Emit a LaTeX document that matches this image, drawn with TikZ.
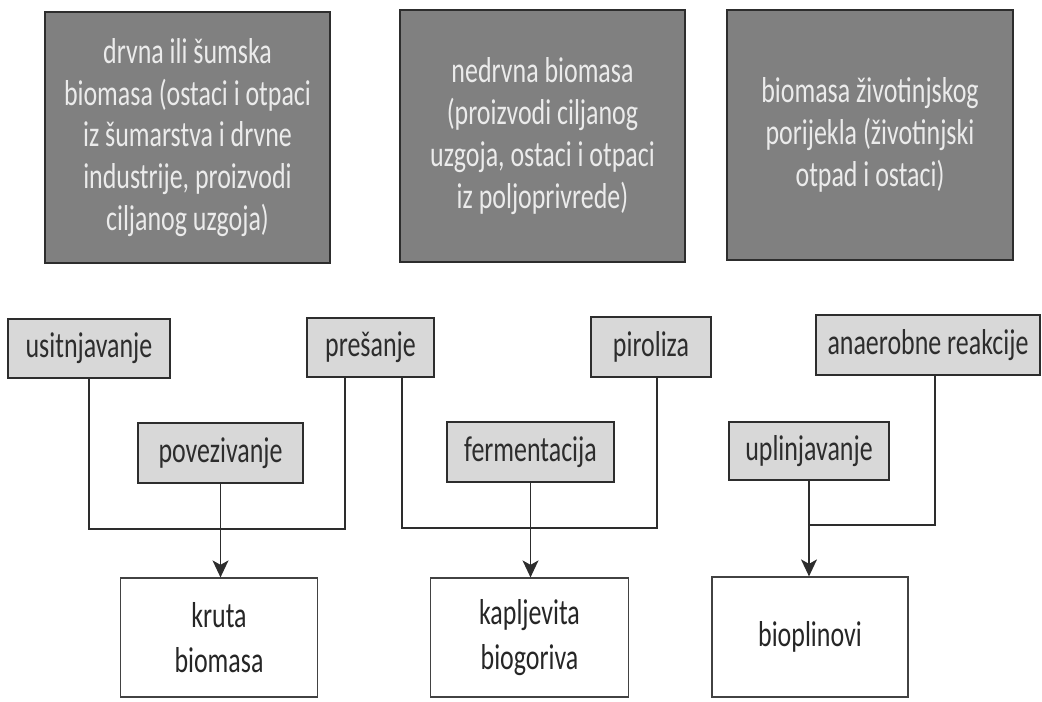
\documentclass[tikz,border=0pt]{standalone}
\usepackage{fontspec}
\setmainfont{Carlito}[FakeStretch=0.72]
\usepackage{tikz}
\usetikzlibrary{arrows.meta}
\usepackage{xcolor}
\definecolor{sourcegray}{RGB}{128,128,128}
\definecolor{stepgray}{RGB}{216,216,216}
\definecolor{linegray}{RGB}{45,45,45}

\begin{document}
\begin{tikzpicture}[
  source/.style={draw=linegray,line width=0.8pt,fill=sourcegray,text=white!92!black,
    align=center,font=\fontsize{20.5}{23.8}\selectfont,inner sep=0pt},
  process/.style={draw=linegray,line width=0.9pt,fill=stepgray,text=linegray,
    align=center,font=\fontsize{20.5}{23.8}\selectfont,inner sep=0pt,minimum height=1.18cm},
  product/.style={draw=linegray!90,line width=0.7pt,fill=white,text=black!85,
    align=center,font=\fontsize{20.5}{25.5}\selectfont,inner sep=0pt,minimum width=3.95cm,minimum height=2.38cm},
  link/.style={draw=linegray,line width=0.8pt},
  flow/.style={link,-{Stealth[length=0.34cm,width=0.32cm,inset=0.09cm]}}]
\useasboundingbox (0,0) rectangle (20.84,-14.04);
% sources of biomass
\node [source,minimum width=5.7cm,minimum height=5.02cm] (wood) at (3.75,-2.75) {drvna ili šumska\\biomasa (ostaci i otpaci\\iz šumarstva i drvne\\industrije, proizvodi\\ciljanog uzgoja)};
\node [source,minimum width=5.7cm,minimum height=5.04cm] (nonwood) at (10.85,-2.72) {nedrvna biomasa\\(proizvodi ciljanog\\uzgoja, ostaci i otpaci\\iz poljoprivrede)};
\node [source,minimum width=5.72cm,minimum height=5cm] (animal) at (17.4,-2.7) {biomasa životinjskog\\porijekla (životinjski\\otpad i ostaci)};
% processes
\node [process,minimum width=3.24cm] (usit) at (1.78,-6.97) {usitnjavanje};
\node [process,minimum width=2.54cm] (pres) at (7.41,-6.95) {prešanje};
\node [process,minimum width=3.3cm,minimum height=1.2cm] (povez) at (4.41,-9.06) {povezivanje};
\node [process,minimum width=2.4cm,minimum height=1.2cm] (piro) at (13.02,-6.94) {piroliza};
\node [process,minimum width=3.34cm,minimum height=1.2cm] (ferm) at (10.61,-9.04) {fermentacija};
\node [process,minimum width=4.48cm,minimum height=1.2cm] (anaer) at (18.56,-6.9) {anaerobne reakcije};
\node [process,minimum width=3.2cm,minimum height=1.16cm] (uplin) at (16.18,-9.02) {uplinjavanje};
% products
\node [product] (kruta) at (4.38,-12.75) {kruta\\biomasa};
\node [product] (kaplj) at (10.59,-12.75) {kapljevita\\biogoriva};
\node [product,minimum width=3.92cm,minimum height=2.4cm] (biopl) at (16.2,-12.74) {bioplinovi};
% joints
\coordinate (j1) at (4.38,-10.58);
\coordinate (j2) at (10.59,-10.56);
\coordinate (j3) at (16.16,-10.5);
% connectors
\draw [link] (usit.south) |- (j1) -| ([xshift=-0.51cm]pres.south);
\draw [flow] (povez.south) -- (povez.south |- kruta.north);
\draw [link] ([xshift=0.63cm]pres.south) |- (j2) -| ([xshift=0.12cm]piro.south);
\draw [flow] (ferm.south) -- (ferm.south |- kaplj.north);
\draw [link] ([xshift=0.14cm]anaer.south) |- (uplin.south |- j3);
\draw [flow] (uplin.south) -- (uplin.south |- biopl.north);
\end{tikzpicture}
\end{document}
